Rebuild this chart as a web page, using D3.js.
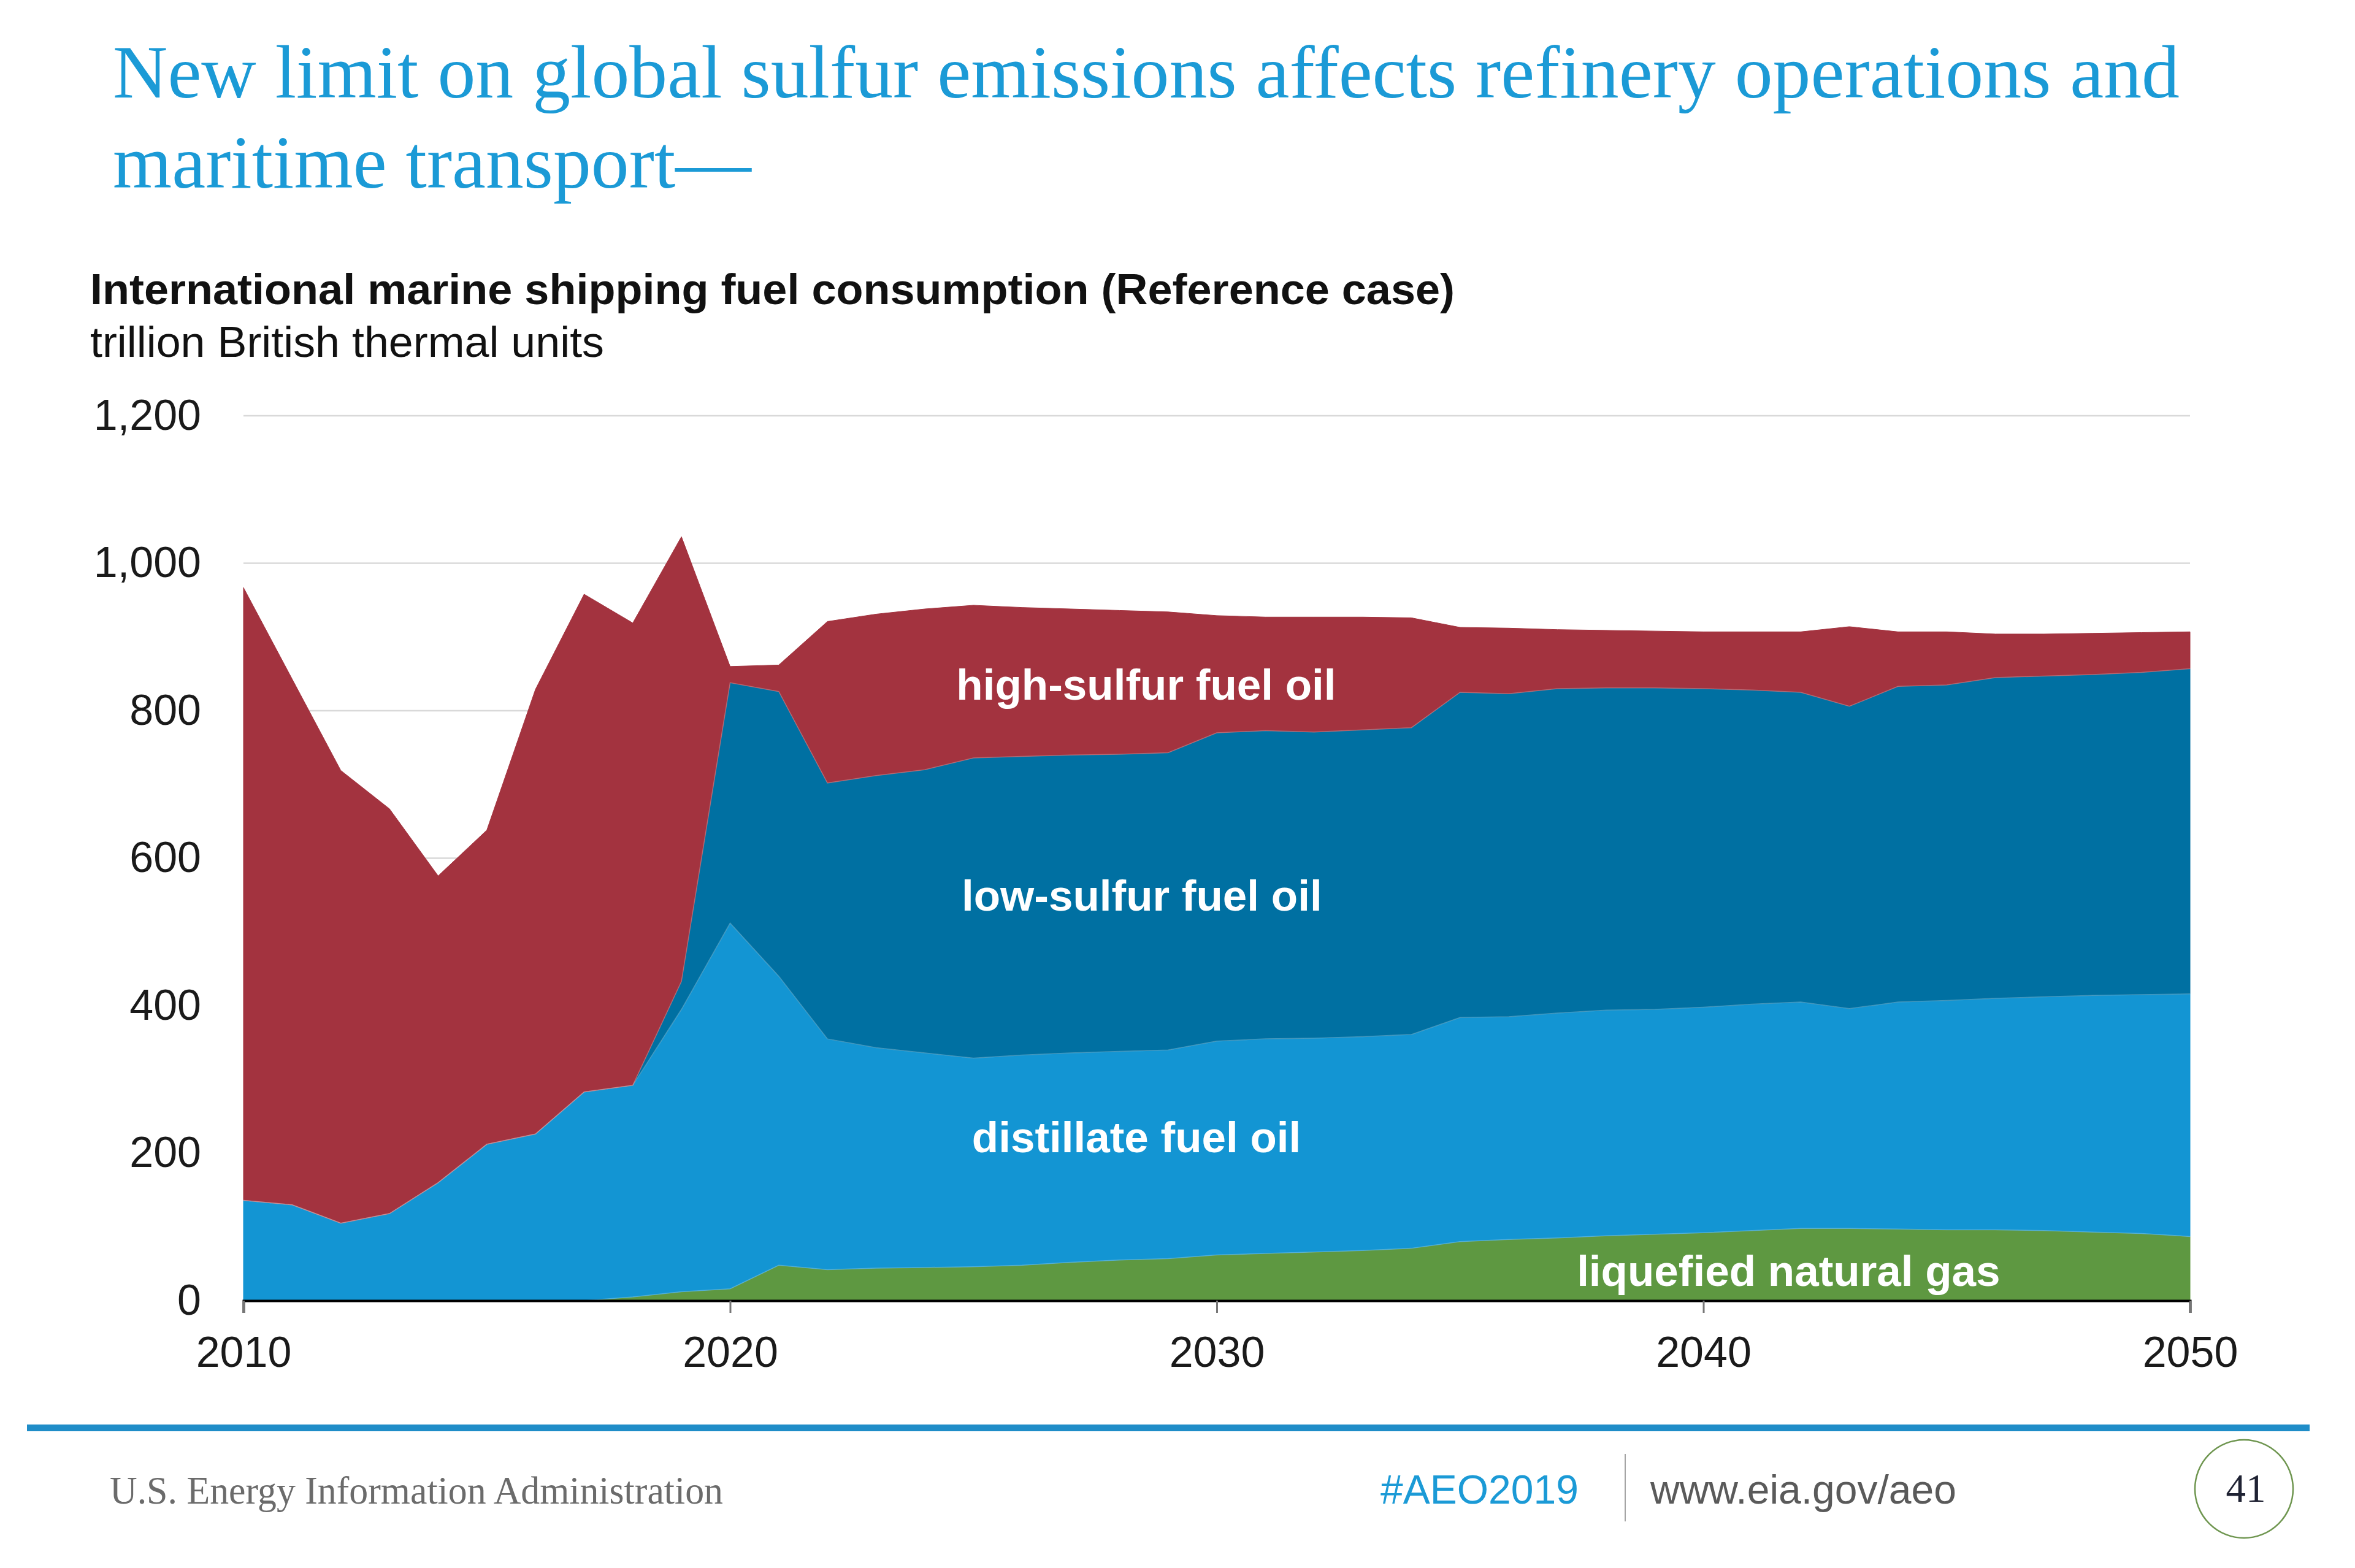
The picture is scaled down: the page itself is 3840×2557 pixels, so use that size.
<!DOCTYPE html>
<html>
<head>
<meta charset="utf-8">
<script src="https://cdn.jsdelivr.net/npm/d3@7"></script>
<style>
  html, body { margin: 0; padding: 0; background: #ffffff; }
  svg { display: block; }
</style>
</head>
<body>
<svg id="chart" width="3840" height="2557"></svg>
<script>
// ---- data (trillion Btu) ----
const years = d3.range(2010, 2051);
const lng = [0,0,0,0,0,0,0,0,5,12,16,48,42,44,45,46,48,52,55,57,62,64,66,68,71,80,83,85,88,90,92,95,98,98,97,96,96,95,93,91,87];
const distillate = [136,130,105,118,160,212,226,283,287,383,496,392,313,299,291,283,285,284,283,283,290,291,290,290,290,304,302,305,306,305,306,307,307,298,308,311,314,317,321,324,329];
const lowSulfur = [0,0,0,0,0,0,0,0,0,38,326,386,347,369,384,407,405,404,403,403,418,418,415,416,416,441,438,440,437,436,432,426,420,410,428,428,435,435,435,437,441];
const highSulfur = [831,713,614,549,416,426,603,675,627,603,22,36,219,219,218,207,202,198,195,191,159,154,156,153,149,88,89,80,78,77,77,79,82,108,74,72,59,57,56,54,50];

const seriesKeys = ["lng", "distillate", "lowSulfur", "highSulfur"];
const seriesLabels = ["liquefied natural gas", "distillate fuel oil", "low-sulfur fuel oil", "high-sulfur fuel oil"];
const seriesColors = ["#5e9841", "#1395d3", "#0070a2", "#a3333f"];
// label anchor positions in data space [year, value]
const labelAnchors = [[2041.75, 20], [2028.35, 201], [2028.46, 529], [2028.55, 815]];

const yTicks = [0, 200, 400, 600, 800, 1000, 1200];
const xTicks = [2010, 2020, 2030, 2040, 2050];

const titleLines = ["New limit on global sulfur emissions affects refinery operations and", "maritime transport\u2014"];
const chartTitle = "International marine shipping fuel consumption (Reference case)";
const chartUnits = "trillion British thermal units";

// ---- build ----
const svg = d3.select("#chart");
const x = d3.scaleLinear().domain([2010, 2050]).range([397, 3571]);
const y = d3.scaleLinear().domain([0, 1200]).range([2121, 678]);

const table = years.map((yr, i) => ({
  year: yr, lng: lng[i], distillate: distillate[i], lowSulfur: lowSulfur[i], highSulfur: highSulfur[i]
}));
const stacked = d3.stack().keys(seriesKeys)(table);

// Title
const blue = "#1b9ad6";
const tW = [3370, 1041];
const tY = [159, 306];
titleLines.forEach((t, i) => {
  svg.append("text")
    .attr("x", 184).attr("y", tY[i])
    .attr("font-family", "Georgia, 'Liberation Serif', 'DejaVu Serif', serif")
    .attr("font-size", 122)
    .attr("fill", blue)
    .attr("textLength", tW[i])
    .attr("lengthAdjust", "spacingAndGlyphs")
    .text(t);
});

svg.append("text")
  .attr("x", 147).attr("y", 496)
  .attr("font-family", "'Liberation Sans', Arial, sans-serif")
  .attr("font-weight", "bold")
  .attr("font-size", 71)
  .attr("fill", "#111")
  .attr("textLength", 2225)
  .attr("lengthAdjust", "spacingAndGlyphs")
  .text(chartTitle);

svg.append("text")
  .attr("x", 147).attr("y", 582)
  .attr("font-family", "'Liberation Sans', Arial, sans-serif")
  .attr("font-size", 71)
  .attr("fill", "#111")
  .attr("textLength", 838)
  .attr("lengthAdjust", "spacingAndGlyphs")
  .text(chartUnits);

// gridlines
const grid = svg.append("g");
grid.selectAll("line").data(yTicks.filter(d => d > 0)).join("line")
  .attr("x1", x(2010)).attr("x2", x(2050))
  .attr("y1", d => y(d)).attr("y2", d => y(d))
  .attr("stroke", "#d9d9d9").attr("stroke-width", 2.5);

// areas
const area = d3.area()
  .x(d => x(d.data.year))
  .y0(d => y(d[0]))
  .y1(d => y(d[1]));

svg.append("g").selectAll("path").data(stacked).join("path")
  .attr("d", area)
  .attr("fill", (d, i) => seriesColors[i])
  .attr("stroke", (d, i) => seriesColors[i])
  .attr("stroke-width", 1);

// faint boundary lines
const line = d3.line().x(d => x(d.data.year)).y(d => y(d[1]));
svg.append("g").selectAll("path").data(stacked.slice(0, 3)).join("path")
  .attr("d", line)
  .attr("fill", "none")
  .attr("stroke", "rgba(255,255,255,0.25)")
  .attr("stroke-width", 1.5);

// area labels
svg.append("g").selectAll("text").data(seriesLabels).join("text")
  .attr("x", (d, i) => x(labelAnchors[i][0]))
  .attr("y", (d, i) => y(labelAnchors[i][1]))
  .attr("text-anchor", "middle")
  .attr("font-family", "'Liberation Sans', Arial, sans-serif")
  .attr("font-weight", "bold")
  .attr("font-size", 71)
  .attr("fill", "#ffffff")
  .text(d => d);

// x axis
const xAxis = d3.axisBottom(x).tickValues(xTicks).tickFormat(d3.format("d")).tickSize(20).tickPadding(38);
const gx = svg.append("g").attr("transform", `translate(0,${y(0)})`).call(xAxis);
gx.select(".domain").attr("stroke", "#000").attr("stroke-width", 4);
gx.selectAll(".tick line").attr("stroke", "#777").attr("stroke-width", 3);
gx.selectAll(".tick text")
  .attr("font-family", "'Liberation Sans', Arial, sans-serif")
  .attr("font-size", 70).attr("fill", "#1a1a1a");

// y axis
const yAxis = d3.axisLeft(y).tickValues(yTicks).tickFormat(d3.format(",")).tickSize(0).tickPadding(69);
const gy = svg.append("g").attr("transform", `translate(${x(2010)},0)`).call(yAxis);
gy.select(".domain").remove();
gy.selectAll(".tick text")
  .attr("font-family", "'Liberation Sans', Arial, sans-serif")
  .attr("font-size", 70).attr("fill", "#1a1a1a");

// footer
svg.append("rect").attr("x", 44).attr("y", 2323).attr("width", 3722).attr("height", 11).attr("fill", "#1f8dc8");

svg.append("text")
  .attr("x", 179).attr("y", 2452)
  .attr("font-family", "Georgia, 'Liberation Serif', serif")
  .attr("font-size", 64).attr("fill", "#6b6b6b")
  .attr("textLength", 1000).attr("lengthAdjust", "spacingAndGlyphs")
  .text("U.S. Energy Information Administration");

svg.append("text")
  .attr("x", 2251).attr("y", 2452)
  .attr("font-family", "'Liberation Sans', Arial, sans-serif")
  .attr("font-size", 66).attr("fill", blue)
  .text("#AEO2019");

svg.append("line").attr("x1", 2650).attr("x2", 2650).attr("y1", 2371).attr("y2", 2481)
  .attr("stroke", "#a5a5a5").attr("stroke-width", 2);

svg.append("text")
  .attr("x", 2691).attr("y", 2452)
  .attr("font-family", "'Liberation Sans', Arial, sans-serif")
  .attr("font-size", 66).attr("fill", "#5a5a5a")
  .text("www.eia.gov/aeo");

svg.append("circle").attr("cx", 3659).attr("cy", 2428).attr("r", 80)
  .attr("fill", "none").attr("stroke", "#6f9650").attr("stroke-width", 2.5);
svg.append("text")
  .attr("x", 3662).attr("y", 2449)
  .attr("text-anchor", "middle")
  .attr("font-family", "Georgia, 'Liberation Serif', serif")
  .attr("font-size", 65).attr("fill", "#1f2233")
  .text("41");
</script>
</body>
</html>
